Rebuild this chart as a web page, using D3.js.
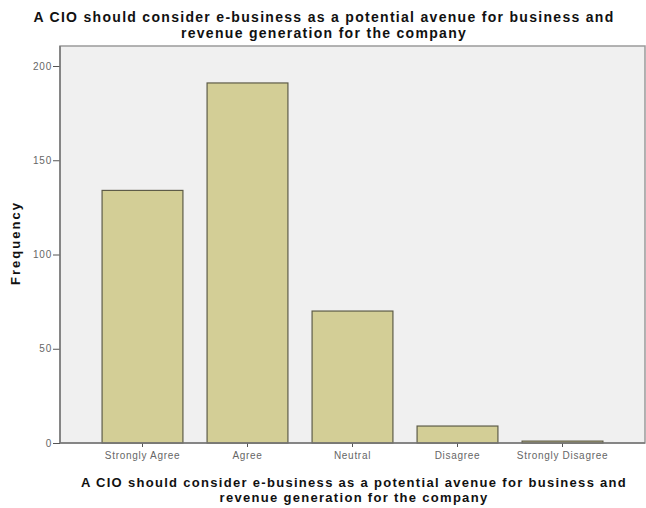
<!DOCTYPE html>
<html><head><meta charset="utf-8">
<script src="https://cdn.jsdelivr.net/npm/d3@7"></script>
<style>body{margin:0;background:#fff}svg{display:block}</style>
</head><body>
<script>
const categories = ["Strongly Agree","Agree","Neutral","Disagree","Strongly Disagree"];
const frequencies = [134, 191, 70, 9, 1];
const yTicks = [0, 50, 100, 150, 200];
const titleLines = ["A CIO should consider e-business as a potential avenue for business and","revenue generation for the company"];

const W = 646, H = 508;
const svg = d3.select("body").append("svg").attr("width", W).attr("height", H);
const frame = {left: 60, top: 46, right: 645, bottom: 443};

const y = d3.scaleLinear().domain([0, 200]).range([frame.bottom, 66]);
const x = d3.scaleBand().domain(categories).range([90, 615]).paddingInner(0.23).paddingOuter(0.115);

svg.append("rect").attr("x", frame.left).attr("y", frame.top)
  .attr("width", frame.right - frame.left).attr("height", frame.bottom - frame.top)
  .attr("fill", "#f0f0f0").attr("stroke", "#9a9a9a").attr("stroke-width", 1.5);

svg.selectAll("rect.bar").data(frequencies).join("rect").attr("class","bar")
  .attr("x", (d,i) => x(categories[i]))
  .attr("width", x.bandwidth())
  .attr("y", d => y(d))
  .attr("height", d => y(0) - y(d))
  .attr("fill", "#d3ce96").attr("stroke", "#5e5c48").attr("stroke-width", 1.2);

const font = "Liberation Sans, Arial, sans-serif";

const yAxis = svg.append("g").attr("transform", `translate(${frame.left},0)`)
  .call(d3.axisLeft(y).tickValues(yTicks).tickSize(7).tickPadding(1));
yAxis.select(".domain").remove();
yAxis.selectAll("line").attr("stroke", "#555");
yAxis.selectAll("text").attr("font-family",font).attr("font-size", 10).attr("letter-spacing", 0.8).attr("fill","#666");

const xAxis = svg.append("g").attr("transform", `translate(0,${frame.bottom})`)
  .call(d3.axisBottom(x).tickSize(4).tickPadding(5));
xAxis.select(".domain").remove();
xAxis.selectAll("line").attr("stroke", "#555");
xAxis.selectAll("text").attr("font-family",font).attr("font-size", 10).attr("letter-spacing", 0.7).attr("fill","#666");

svg.append("line").attr("x1", frame.left).attr("x2", frame.right).attr("y1", frame.bottom).attr("y2", frame.bottom)
  .attr("stroke", "#777").attr("stroke-width", 1.5);
svg.append("line").attr("x1", frame.left).attr("x2", frame.left).attr("y1", frame.top).attr("y2", frame.bottom)
  .attr("stroke", "#777").attr("stroke-width", 1.5);

const t = svg.append("text").attr("font-family", font).attr("font-weight","bold").attr("font-size", 14)
  .attr("letter-spacing", 1.3).attr("text-anchor","middle").attr("fill","#111");
titleLines.forEach((s,i) => t.append("tspan").attr("x", 324).attr("y", 22 + i*16).text(s));

const xt = svg.append("text").attr("font-family", font).attr("font-weight","bold").attr("font-size", 13)
  .attr("letter-spacing", 1.3).attr("text-anchor","middle").attr("fill","#111");
titleLines.forEach((s,i) => xt.append("tspan").attr("x", 354).attr("y", 487 + i*15).text(s));

svg.append("text").attr("font-family", font).attr("font-weight","bold").attr("font-size", 13)
  .attr("letter-spacing", 2).attr("text-anchor","middle").attr("fill","#111")
  .attr("transform","translate(20,243) rotate(-90)").text("Frequency");
</script>
</body></html>
